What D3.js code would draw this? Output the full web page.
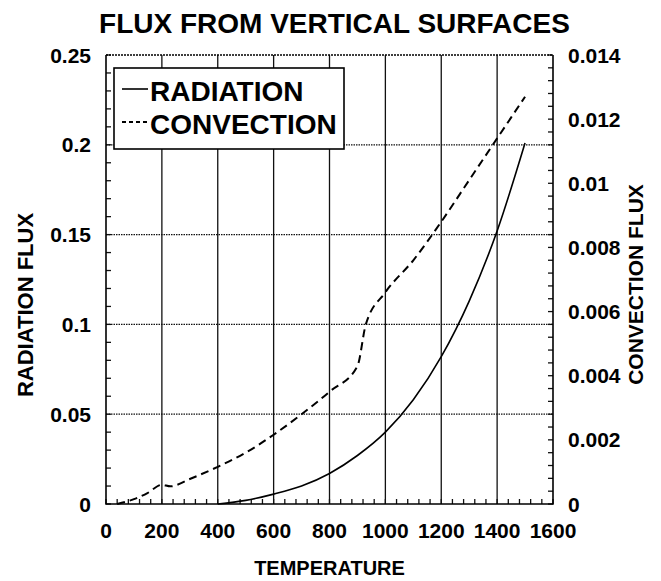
<!DOCTYPE html>
<html>

<head>
    <title>Flux from vertical surfaces</title>
    <style>
        body { margin: 0; background: #fff; }
        svg { font-family: "Liberation Sans", Arial, sans-serif; font-weight: bold; }
    </style>
</head>

<body>
    <div>
        <svg></svg>
    </div>
</body>
<script src="https://d3js.org/d3.v7.min.js"></script>
<script type="text/javascript">
// radiation flux (left axis) vs temperature
const radTemp = [400, 500, 600, 700, 800, 900, 1000, 1100, 1200, 1300, 1400, 1500];
const radFlux = [0, 0.002, 0.0055, 0.010, 0.017, 0.027, 0.040, 0.058, 0.082, 0.113, 0.152, 0.201];

// convection flux (right axis) vs temperature
const convTemp = [40, 100, 150, 200, 230, 300, 400, 500, 600, 700, 800, 900, 930, 1000, 1100, 1200, 1300, 1400, 1500];
const convFlux = [0, 0.00015, 0.00035, 0.0006, 0.00055, 0.00078, 0.00116, 0.0016, 0.00216, 0.0028, 0.0035, 0.0043, 0.0056, 0.0066, 0.0076, 0.0088, 0.0101, 0.0114, 0.0127];

const xTicks = [0, 200, 400, 600, 800, 1000, 1200, 1400, 1600];
const leftTicks = [0, 0.05, 0.1, 0.15, 0.2, 0.25];
const rightTicks = [0, 0.002, 0.004, 0.006, 0.008, 0.01, 0.012, 0.014];
const legendNames = ["RADIATION", "CONVECTION"];

const width = 661;
const height = 581;
const margin = {top: 55, right: 108, bottom: 77, left: 106};

const svg = d3.select("svg")
    .attr("width", width)
    .attr("height", height);

const x = d3.scaleLinear().domain([0, 1600]).range([margin.left, width - margin.right]);
const yL = d3.scaleLinear().domain([0, 0.25]).range([height - margin.bottom, margin.top]);
const yR = d3.scaleLinear().domain([0, 0.014]).range([height - margin.bottom, margin.top]);

const pTop = margin.top, pBottom = height - margin.bottom;
const pLeft = margin.left, pRight = width - margin.right;

// grid: solid verticals, dotted horizontals
svg.append("g")
    .selectAll("line")
    .data(xTicks.slice(1, -1))
    .join("line")
    .attr("x1", d => x(d)).attr("x2", d => x(d))
    .attr("y1", pTop).attr("y2", pBottom)
    .attr("stroke", "#111")
    .attr("stroke-width", 1.3);

svg.append("g")
    .selectAll("line")
    .data(leftTicks.slice(1, -1))
    .join("line")
    .attr("x1", pLeft).attr("x2", pRight)
    .attr("y1", d => yL(d)).attr("y2", d => yL(d))
    .attr("stroke", "#111")
    .attr("stroke-width", 1.2)
    .attr("stroke-dasharray", "1.5,1");

// minor ticks (inward)
const tl = 5;
svg.append("g")
    .selectAll("line")
    .data(d3.range(0, 1600.1, 40))
    .join("line")
    .attr("x1", d => x(d)).attr("x2", d => x(d))
    .attr("y1", pBottom).attr("y2", pBottom - tl)
    .attr("stroke", "#111").attr("stroke-width", 1.3);

svg.append("g")
    .selectAll("line")
    .data(d3.range(0, 0.2501, 0.01))
    .join("line")
    .attr("x1", pLeft).attr("x2", pLeft + tl)
    .attr("y1", d => yL(d)).attr("y2", d => yL(d))
    .attr("stroke", "#111").attr("stroke-width", 1.3);

svg.append("g")
    .selectAll("line")
    .data(d3.range(0, 0.01401, 0.0004))
    .join("line")
    .attr("x1", pRight).attr("x2", pRight - tl)
    .attr("y1", d => yR(d)).attr("y2", d => yR(d))
    .attr("stroke", "#111").attr("stroke-width", 1.3);

// frame (top edge drawn dotted like the scan)
svg.append("path")
    .attr("d", `M${pLeft},${pTop}V${pBottom}H${pRight}V${pTop}`)
    .attr("fill", "none")
    .attr("stroke", "#000")
    .attr("stroke-width", 1.6);

svg.append("line")
    .attr("x1", pLeft).attr("x2", pRight)
    .attr("y1", pTop).attr("y2", pTop)
    .attr("stroke", "#000")
    .attr("stroke-width", 1.6)
    .attr("stroke-dasharray", "2,1");

// curves
const radLine = d3.line()
    .x((d, i) => x(radTemp[i]))
    .y(d => yL(d))
    .curve(d3.curveMonotoneX);

const convLine = d3.line()
    .x((d, i) => x(convTemp[i]))
    .y(d => yR(d))
    .curve(d3.curveMonotoneX);

svg.append("path")
    .datum(radFlux)
    .attr("d", radLine)
    .attr("fill", "none")
    .attr("stroke", "#000")
    .attr("stroke-width", 1.6);

svg.append("path")
    .datum(convFlux)
    .attr("d", convLine)
    .attr("fill", "none")
    .attr("stroke", "#000")
    .attr("stroke-width", 2)
    .attr("stroke-dasharray", "8,5");

// tick labels
svg.append("g")
    .selectAll("text")
    .data(xTicks)
    .join("text")
    .attr("x", d => x(d))
    .attr("y", pBottom + 34)
    .attr("text-anchor", "middle")
    .attr("font-size", 21)
    .text(d => d);

svg.append("g")
    .selectAll("text")
    .data(leftTicks)
    .join("text")
    .attr("x", pLeft - 15)
    .attr("y", d => yL(d))
    .attr("dy", "0.36em")
    .attr("text-anchor", "end")
    .attr("font-size", 21)
    .text(d => d);

svg.append("g")
    .selectAll("text")
    .data(rightTicks)
    .join("text")
    .attr("x", pRight + 15)
    .attr("y", d => yR(d))
    .attr("dy", "0.36em")
    .attr("text-anchor", "start")
    .attr("font-size", 21)
    .text(d => d);

// titles
svg.append("text")
    .attr("x", (pLeft + pRight) / 2 + 5)
    .attr("y", 33)
    .attr("text-anchor", "middle")
    .attr("font-size", 28)
    .text("FLUX FROM VERTICAL SURFACES");

svg.append("text")
    .attr("x", (pLeft + pRight) / 2)
    .attr("y", 575)
    .attr("text-anchor", "middle")
    .attr("font-size", 20)
    .text("TEMPERATURE");

svg.append("text")
    .attr("transform", "translate(33,305) rotate(-90)")
    .attr("text-anchor", "middle")
    .attr("font-size", 22)
    .text("RADIATION FLUX");

svg.append("text")
    .attr("transform", `translate(643,${(pTop + pBottom) / 2 + 5}) rotate(-90)`)
    .attr("text-anchor", "middle")
    .attr("font-size", 21)
    .text("CONVECTION FLUX");

// legend
const lg = svg.append("g").attr("transform", `translate(${pLeft + 8},${pTop + 13})`);
lg.append("rect")
    .attr("width", 230).attr("height", 81)
    .attr("fill", "#fff")
    .attr("stroke", "#000")
    .attr("stroke-width", 1.6);

lg.selectAll("line")
    .data(legendNames)
    .join("line")
    .attr("x1", 8).attr("x2", 34)
    .attr("y1", (d, i) => 21 + i * 33).attr("y2", (d, i) => 21 + i * 33)
    .attr("stroke", "#000")
    .attr("stroke-width", (d, i) => i ? 2 : 1.6)
    .attr("stroke-dasharray", (d, i) => i ? "4,3" : null);

lg.selectAll("text")
    .data(legendNames)
    .join("text")
    .attr("x", 36)
    .attr("y", (d, i) => 33 + i * 33)
    .attr("font-size", 28)
    .text(d => d);
</script>
</html>
